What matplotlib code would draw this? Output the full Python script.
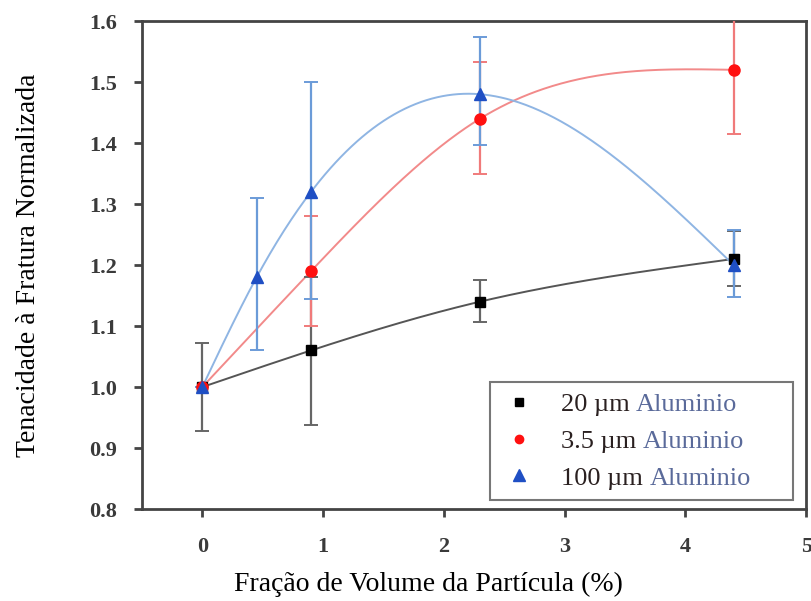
import numpy as np
import matplotlib.pyplot as plt
from matplotlib.lines import Line2D

# Data
x_20 = [0.0, 0.9, 2.3, 4.4]
y_20 = [1.00, 1.06, 1.14, 1.21]
lo_20 = [0.928, 0.938, 1.106, 1.166]
hi_20 = [1.072, 1.18, 1.176, 1.256]

x_35 = [0.0, 0.9, 2.3, 4.4]
y_35 = [1.00, 1.19, 1.44, 1.52]
lo_35 = [1.00, 1.10, 1.35, 1.415]
hi_35 = [1.00, 1.28, 1.533, 1.63]

x_100 = [0.0, 0.45, 0.9, 2.3, 4.4]
y_100 = [1.00, 1.18, 1.32, 1.48, 1.20]
lo_100 = [1.00, 1.06, 1.144, 1.397, 1.148]
hi_100 = [1.00, 1.31, 1.50, 1.574, 1.257]

sizes = ['20 µm', '3.5 µm', '100 µm']
material = 'Aluminio'


def natural_spline(x, y, n=300):
    # simple natural cubic spline for the smooth guide lines
    x = np.asarray(x, float)
    y = np.asarray(y, float)
    k = len(x)
    h = np.diff(x)
    A = np.zeros((k, k))
    b = np.zeros(k)
    A[0, 0] = A[-1, -1] = 1
    for i in range(1, k - 1):
        A[i, i - 1] = h[i - 1]
        A[i, i] = 2 * (h[i - 1] + h[i])
        A[i, i + 1] = h[i]
        b[i] = 6 * ((y[i + 1] - y[i]) / h[i] - (y[i] - y[i - 1]) / h[i - 1])
    m = np.linalg.solve(A, b)
    xs = np.linspace(x[0], x[-1], n)
    ys = np.empty_like(xs)
    for j, xv in enumerate(xs):
        i = min(np.searchsorted(x, xv, side='right') - 1, k - 2)
        t = xv - x[i]
        hi = h[i]
        bb = (y[i + 1] - y[i]) / hi - hi * (2 * m[i] + m[i + 1]) / 6
        c = m[i] / 2
        d = (m[i + 1] - m[i]) / (6 * hi)
        ys[j] = y[i] + bb * t + c * t ** 2 + d * t ** 3
    return xs, ys


plt.rcParams['font.family'] = ['Liberation Serif', 'DejaVu Serif']

fig = plt.figure(figsize=(8.11, 6.01), dpi=100)
ax = fig.add_axes([0.175, 0.153, 0.819, 0.812])

series = [
    (x_20, y_20, lo_20, hi_20, 's', '#000000', '#555555', '#666666', 7),
    (x_35, y_35, lo_35, hi_35, 'o', '#ff1010', '#f28a8a', '#f07a7a', 8),
    (x_100, y_100, lo_100, hi_100, '^', '#1f4fc4', '#8fb5e3', '#6b9bd8', 9),
]

for xv, yv, lo, hi, mk, mc, lc, ec, ms in series:
    xs, ys = natural_spline(xv, yv)
    ax.plot(xs, ys, color=lc, lw=1.4, zorder=2)
    yerr = [np.array(yv) - np.array(lo), np.array(hi) - np.array(yv)]
    ax.errorbar(xv, yv, yerr=yerr, fmt='none', ecolor=ec, elinewidth=1.6,
                capsize=5, capthick=1.4, zorder=3)
    ax.plot(xv, yv, linestyle='none', marker=mk, color=mc, ms=ms, zorder=4)

ax.set_xlim(-0.5, 5.0)
ax.set_ylim(0.8, 1.6)
ax.set_xticks([0, 1, 2, 3, 4, 5])
yt = np.arange(0.8, 1.61, 0.1)
ax.set_yticks(yt)
ax.set_yticklabels([f'{v:.1f}' for v in yt])

for s in ax.spines.values():
    s.set_color('#444444')
    s.set_linewidth(2)
ax.tick_params(direction='out', length=6, width=2, color='#444444',
               labelsize=16, labelcolor='#3a3a3a')
ax.tick_params(axis='y', pad=12)
ax.tick_params(axis='x', pad=14)
for lab in ax.get_xticklabels() + ax.get_yticklabels():
    lab.set_fontweight('bold')

ax.set_xlabel('Fração de Volume da Partícula (%)', fontsize=20)
ax.set_ylabel('Tenacidade à Fratura Normalizada', fontsize=20)
ax.xaxis.set_label_coords(0.431, -0.128)
ax.yaxis.set_label_coords(-0.152, 0.5)

handles = [
    Line2D([], [], linestyle='none', marker='s', color='#000000', ms=6),
    Line2D([], [], linestyle='none', marker='o', color='#ff1010', ms=6),
    Line2D([], [], linestyle='none', marker='^', color='#1f4fc4', ms=8),
]
# trailing spaces reproduce the empty room on the right of the legend box
full = [f'{s} {material}     ' for s in sizes]
leg = ax.legend(handles, full, loc='lower right',
                bbox_to_anchor=(0.98, 0.018), fontsize=19, frameon=True,
                fancybox=False, edgecolor='#555555', handletextpad=0.9,
                borderpad=0.4, labelspacing=0.5, handlelength=1.4,
                borderaxespad=0)
leg.get_frame().set_linewidth(1.5)

# redraw the legend texts in two colours: size dark, material bluish gray
fig.canvas.draw()
r = fig.canvas.get_renderer()
inv = fig.transFigure.inverted()
for t, s in zip(leg.get_texts(), sizes):
    bb = t.get_window_extent(r)
    t.set_visible(False)
    x0, yc = inv.transform((bb.x0, (bb.y0 + bb.y1) / 2))
    t1 = fig.text(x0, yc, s + ' ', fontsize=19, color='#2a2020',
                  ha='left', va='center', zorder=10)
    b1 = t1.get_window_extent(r)
    x1, _ = inv.transform((b1.x1, 0))
    fig.text(x1, yc, material, fontsize=19, color='#5a6a9a',
             ha='left', va='center', zorder=10)

fig.savefig('out.png', dpi=100)
